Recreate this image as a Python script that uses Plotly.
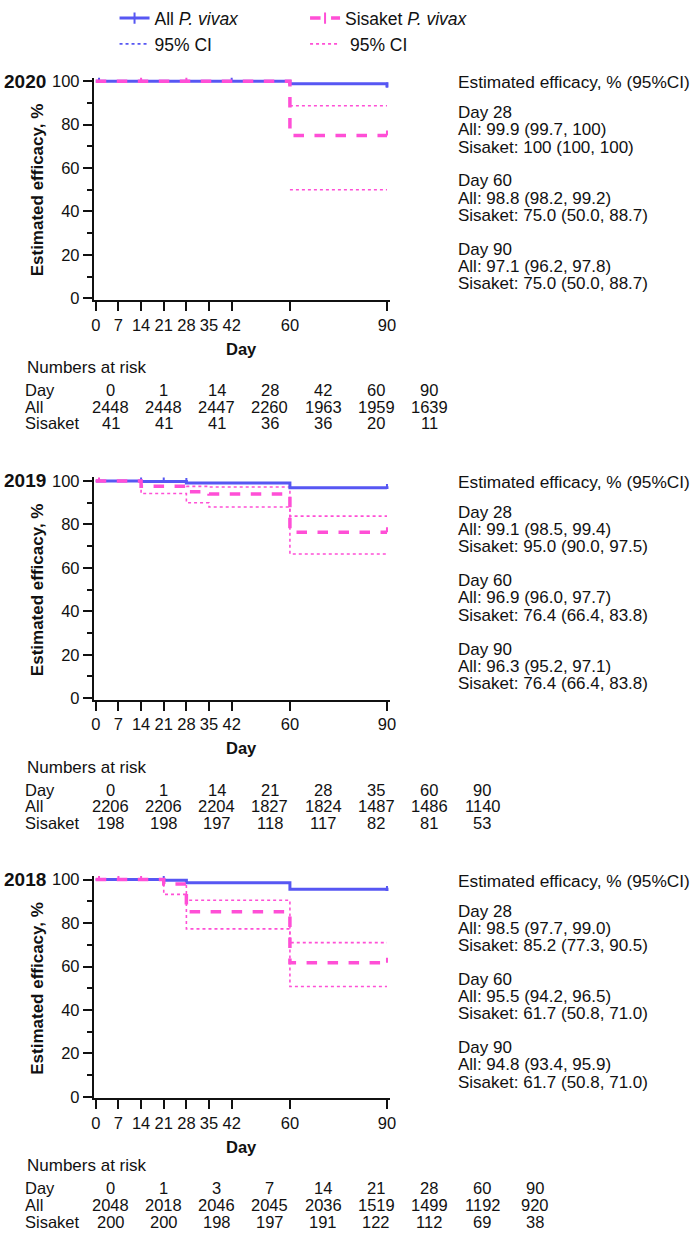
import plotly.graph_objects as go

W, H = 697, 1241
FONT = "Liberation Sans, Arial, sans-serif"
BLUE = "#5757F3"
PINK = "#FF4FD6"
INK = "#111111"

years = ["2020", "2019", "2018"]
x_tick_days = [0, 7, 14, 21, 28, 35, 42, 60, 90]
y_ticks = [0, 20, 40, 60, 80, 100]
y_minor = [10, 30, 50, 70, 90]

# ---- 2020 ----
all_days_2020 = [0, 28, 60, 90]
all_eff_2020 = [100, 99.9, 98.8, 97.1]
sis_days_2020 = [0, 60, 90]
sis_eff_2020 = [100, 75.0, 75.0]
sis_ci_days_2020 = [60, 90]
sis_lo_2020 = [50.0, 50.0]
sis_hi_2020 = [88.7, 88.7]
all_cens_2020 = [1, 42, 90]
sis_cens_2020 = [14, 28, 90]

# ---- 2019 ----
all_days_2019 = [0, 14, 28, 60, 90]
all_eff_2019 = [100, 99.7, 99.1, 96.9, 96.3]
sis_days_2019 = [0, 14, 28, 35, 60, 90]
sis_eff_2019 = [100, 97.6, 95.0, 94.0, 76.4, 76.4]
sis_ci_days_2019 = [0, 14, 28, 35, 60, 90]
sis_lo_2019 = [100, 94.2, 90.0, 88.0, 66.4, 66.4]
sis_hi_2019 = [100, 99.6, 97.5, 97.2, 83.8, 83.8]
all_cens_2019 = [14, 21, 28, 90]
sis_cens_2019 = [1, 90]

# ---- 2018 ----
all_days_2018 = [0, 21, 28, 60, 90]
all_eff_2018 = [100, 99.7, 98.5, 95.5, 94.8]
sis_days_2018 = [0, 21, 28, 60, 90]
sis_eff_2018 = [100, 98.0, 85.2, 61.7, 61.7]
sis_ci_days_2018 = [0, 21, 28, 60, 90]
sis_lo_2018 = [100, 93.2, 77.3, 50.8, 50.8]
sis_hi_2018 = [100, 99.8, 90.5, 71.0, 71.0]
all_cens_2018 = [21, 90]
sis_cens_2018 = [1, 7, 14, 90]

# ---- numbers at risk ----
risk_days_2020 = [0, 1, 14, 28, 42, 60, 90]
risk_all_2020 = [2448, 2448, 2447, 2260, 1963, 1959, 1639]
risk_sis_2020 = [41, 41, 41, 36, 36, 20, 11]
risk_days_2019 = [0, 1, 14, 21, 28, 35, 60, 90]
risk_all_2019 = [2206, 2206, 2204, 1827, 1824, 1487, 1486, 1140]
risk_sis_2019 = [198, 198, 197, 118, 117, 82, 81, 53]
risk_days_2018 = [0, 1, 3, 7, 14, 21, 28, 60, 90]
risk_all_2018 = [2048, 2018, 2046, 2045, 2036, 1519, 1499, 1192, 920]
risk_sis_2018 = [200, 200, 198, 197, 191, 122, 112, 69, 38]

# ---- estimated efficacy text ----
eff_text_2020 = ["Day 28", "All: 99.9 (99.7, 100)", "Sisaket: 100 (100, 100)",
                 "Day 60", "All: 98.8 (98.2, 99.2)", "Sisaket: 75.0 (50.0, 88.7)",
                 "Day 90", "All: 97.1 (96.2, 97.8)", "Sisaket: 75.0 (50.0, 88.7)"]
eff_text_2019 = ["Day 28", "All: 99.1 (98.5, 99.4)", "Sisaket: 95.0 (90.0, 97.5)",
                 "Day 60", "All: 96.9 (96.0, 97.7)", "Sisaket: 76.4 (66.4, 83.8)",
                 "Day 90", "All: 96.3 (95.2, 97.1)", "Sisaket: 76.4 (66.4, 83.8)"]
eff_text_2018 = ["Day 28", "All: 98.5 (97.7, 99.0)", "Sisaket: 85.2 (77.3, 90.5)",
                 "Day 60", "All: 95.5 (94.2, 96.5)", "Sisaket: 61.7 (50.8, 71.0)",
                 "Day 90", "All: 94.8 (93.4, 95.9)", "Sisaket: 61.7 (50.8, 71.0)"]

panels = [
    dict(all_days=all_days_2020, all_eff=all_eff_2020, sis_days=sis_days_2020, sis_eff=sis_eff_2020,
         ci_days=sis_ci_days_2020, lo=sis_lo_2020, hi=sis_hi_2020, all_c=all_cens_2020, sis_c=sis_cens_2020,
         rd=risk_days_2020, ra=risk_all_2020, rs=risk_sis_2020, txt=eff_text_2020),
    dict(all_days=all_days_2019, all_eff=all_eff_2019, sis_days=sis_days_2019, sis_eff=sis_eff_2019,
         ci_days=sis_ci_days_2019, lo=sis_lo_2019, hi=sis_hi_2019, all_c=all_cens_2019, sis_c=sis_cens_2019,
         rd=risk_days_2019, ra=risk_all_2019, rs=risk_sis_2019, txt=eff_text_2019),
    dict(all_days=all_days_2018, all_eff=all_eff_2018, sis_days=sis_days_2018, sis_eff=sis_eff_2018,
         ci_days=sis_ci_days_2018, lo=sis_lo_2018, hi=sis_hi_2018, all_c=all_cens_2018, sis_c=sis_cens_2018,
         rd=risk_days_2018, ra=risk_all_2018, rs=risk_sis_2018, txt=eff_text_2018),
]

# ---- layout geometry (pixels) ----
PANEL_T = [68.3, 475.0, 880.5]   # pixel row of y=100
PANEL_H = 221.0                  # pixels from y=100 to y=0
X0_PX, X90_PX = 94.0, 389.0
XR = [-0.6, 91.0]
YR = [-0.6, 101.6]
CENS_UP = 2.3                    # length of censor ticks, in % units
TXT_PITCH = 17.5


def step_value(days, vals, d):
    v = vals[0]
    for dd, vv in zip(days, vals):
        if dd <= d:
            v = vv
    return v


def ann(text, xpx, ypx, size, bold=False, xanchor="left", angle=0):
    if bold:
        text = "<b>" + text + "</b>"
    return dict(text=text, x=xpx / W, y=1 - ypx / H, xref="paper", yref="paper",
                xanchor=xanchor, yanchor="middle", showarrow=False, textangle=angle,
                font=dict(size=size, family=FONT, color=INK))


def censor_trace(days, k_days, k_vals, color, xa, ya):
    n = len(days)
    return go.Scatter(x=days, y=[step_value(k_days, k_vals, d) for d in days],
                      mode="markers", marker=dict(size=2, color=color, opacity=0),
                      error_y=dict(type="data", symmetric=False, array=[CENS_UP] * n,
                                   arrayminus=[0] * n, width=0, thickness=2, color=color),
                      xaxis=xa, yaxis=ya, showlegend=False, hoverinfo="skip")


fig = go.Figure()
annotations = []
layout_axes = {}

xpd = (X90_PX - X0_PX) / 90.0
xdom = [(X0_PX + XR[0] * xpd) / W, (X0_PX + XR[1] * xpd) / W]

for i, p in enumerate(panels):
    T = PANEL_T[i]
    B = T + PANEL_H
    ypd = PANEL_H / 100.0
    top_px = B - YR[1] * ypd
    bot_px = B - YR[0] * ypd
    ydom = [1 - bot_px / H, 1 - top_px / H]
    xa = "x" if i == 0 else f"x{i+1}"
    ya = "y" if i == 0 else f"y{i+1}"
    xkey = "xaxis" if i == 0 else f"xaxis{i+1}"
    ykey = "yaxis" if i == 0 else f"yaxis{i+1}"

    layout_axes[xkey] = dict(domain=xdom, range=XR, anchor=ya, tickvals=x_tick_days,
                             ticks="outside", ticklen=9, tickwidth=2, tickcolor=INK,
                             showline=True, linewidth=2, linecolor=INK, showgrid=False,
                             zeroline=False, tickfont=dict(size=16.5, family=FONT, color=INK),
                             fixedrange=True)
    layout_axes[ykey] = dict(domain=ydom, range=YR, anchor=xa, tickvals=y_ticks,
                             ticks="outside", ticklen=9, tickwidth=2, tickcolor=INK,
                             minor=dict(tickvals=y_minor, ticks="outside", ticklen=5,
                                        tickwidth=2, tickcolor=INK, showgrid=False),
                             showline=True, linewidth=2, linecolor=INK, showgrid=False,
                             zeroline=False, tickfont=dict(size=16.5, family=FONT, color=INK),
                             fixedrange=True)

    # Sisaket CI (dotted)
    for arr in (p["lo"], p["hi"]):
        fig.add_trace(go.Scatter(x=p["ci_days"], y=arr, mode="lines", line_shape="hv",
                                 line=dict(color=PINK, width=1.6, dash="dot"),
                                 xaxis=xa, yaxis=ya, showlegend=False, hoverinfo="skip"))
    # All (solid blue)
    fig.add_trace(go.Scatter(x=p["all_days"], y=p["all_eff"], mode="lines", line_shape="hv",
                             line=dict(color=BLUE, width=3),
                             xaxis=xa, yaxis=ya, showlegend=False, hoverinfo="skip"))
    fig.add_trace(censor_trace(p["all_c"], p["all_days"], p["all_eff"], BLUE, xa, ya))
    # Sisaket (dashed pink)
    fig.add_trace(go.Scatter(x=p["sis_days"], y=p["sis_eff"], mode="lines", line_shape="hv",
                             line=dict(color=PINK, width=3.5, dash="dash"),
                             xaxis=xa, yaxis=ya, showlegend=False, hoverinfo="skip"))
    fig.add_trace(censor_trace(p["sis_c"], p["sis_days"], p["sis_eff"], PINK, xa, ya))

    # year label, axis titles
    annotations.append(ann(years[i], -1, T, 19, bold=True))
    annotations.append(ann("Estimated efficacy, %", 35, T + PANEL_H / 2, 17, bold=True,
                           xanchor="center", angle=-90))
    annotations.append(ann("Day", (X0_PX + X90_PX) / 2, T + 272, 16.5, bold=True, xanchor="center"))

    # numbers at risk table
    annotations.append(ann("Numbers at risk", 22, T + 291, 17))
    row_y = [T + 314, T + 331, T + 348]
    for lab, yy in zip(["Day", "All", "Sisaket"], row_y):
        annotations.append(ann(lab, 20, yy, 16.5))
    for j, (d, a, s) in enumerate(zip(p["rd"], p["ra"], p["rs"])):
        cx = 109 + 53.8 * j
        for val, yy in zip([d, a, s], row_y):
            annotations.append(ann(str(val), cx, yy, 16.5, xanchor="center"))

    # estimated efficacy text block
    annotations.append(ann("Estimated efficacy, % (95%CI)", 459, T + 1, 17.3))
    for k in range(3):
        mid = T + 49.5 + 69.5 * k
        for m in range(3):
            annotations.append(ann(p["txt"][3 * k + m], 459, mid + (m - 1) * TXT_PITCH, 17))

# legend entries
fig.add_trace(go.Scatter(x=[None], y=[None], mode="lines+markers", name="All <i>P. vivax</i>",
                         line=dict(color=BLUE, width=3),
                         marker=dict(symbol="line-ns", size=8, line=dict(color=BLUE, width=2)),
                         legend="legend"))
fig.add_trace(go.Scatter(x=[None], y=[None], mode="lines", name="95% CI",
                         line=dict(color=BLUE, width=1.6, dash="dot"), legend="legend"))
fig.add_trace(go.Scatter(x=[None], y=[None], mode="lines+markers", name="Sisaket <i>P. vivax</i>",
                         line=dict(color=PINK, width=3.5, dash="dash"),
                         marker=dict(symbol="line-ns", size=8, line=dict(color=PINK, width=2)),
                         legend="legend2"))
fig.add_trace(go.Scatter(x=[None], y=[None], mode="lines", name="\u00a095% CI",
                         line=dict(color=PINK, width=1.6, dash="dot"), legend="legend2"))

leg_style = dict(font=dict(size=17.5, family=FONT, color=INK), bgcolor="rgba(0,0,0,0)",
                 borderwidth=0, yanchor="top", xanchor="left", y=1 + 14 / H, tracegroupgap=0)

fig.update_layout(
    width=W, height=H,
    margin=dict(l=0, r=0, t=0, b=0),
    paper_bgcolor="white", plot_bgcolor="white",
    font=dict(family=FONT, color=INK),
    annotations=annotations,
    legend=dict(x=113 / W, **leg_style),
    legend2=dict(x=306 / W, **leg_style),
    **layout_axes,
)

fig.write_html("out.html", config={"displayModeBar": False},
               post_script="document.body.style.margin='0';document.body.style.overflow='hidden';")
